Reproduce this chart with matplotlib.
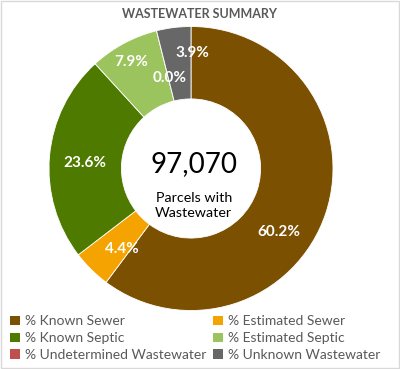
import matplotlib.pyplot as plt
import numpy as np

# data
categories = ['% Known Sewer', '% Estimated Sewer', '% Known Septic',
              '% Estimated Septic', '% Undetermined Wastewater', '% Unknown Wastewater']
values = [60.2, 4.4, 23.6, 7.9, 0.0, 3.9]
colors = ['#7B5000', '#F5A300', '#4E7A00', '#9CC45E', '#C0504D', '#676767']
total_parcels = '97,070'
center_label = 'Parcels with\nWastewater'
title = 'WASTEWATER SUMMARY'

# label spots (fraction of outer radius), set by hand like in the original
label_xy = [(0.62, -0.45), (-0.49, -0.57), (-0.75, 0.04),
            (-0.42, 0.75), (-0.15, 0.64), (0.01, 0.81)]

plt.rcParams['font.family'] = ['Lato', 'DejaVu Sans']

fig = plt.figure(figsize=(4.0, 3.69), dpi=100)
ax = fig.add_axes([0, 0, 1, 1])

wedges, _ = ax.pie(values, colors=colors, startangle=90, counterclock=False,
                   radius=1.0, wedgeprops=dict(width=0.51, edgecolor='white', linewidth=0.6))

for (x, y), v in zip(label_xy, values):
    ax.text(x, y, '%.1f%%' % v, ha='center', va='center', color='white',
            fontsize=11, fontweight='bold')

# center text
ax.text(0.02, 0.03, total_parcels, ha='center', va='center', fontsize=20, color='black')
ax.text(0.02, -0.26, center_label, ha='center', va='center', fontsize=10.3,
        color='black', linespacing=1.35)

# title
ax.text(0.063, 1.088, title, ha='center', va='center', fontsize=9,
        fontweight='bold', color='#595959')

ax.set_xlim(-191/142, (400-191)/142)
ax.set_ylim((168.5-369)/142, 168.5/142)
ax.axis('off')

# legend, row order like excel
order = [0, 2, 4, 1, 3, 5]
leg = fig.legend([wedges[i] for i in order], [categories[i] for i in order],
                 loc='upper left', bbox_to_anchor=(0.025, 0.145), ncol=2,
                 frameon=False, fontsize=10, handlelength=0.7, handleheight=0.7,
                 handletextpad=0.4, columnspacing=0.45, labelspacing=0.35,
                 borderaxespad=0, borderpad=0)
for t in leg.get_texts():
    t.set_color('#595959')
for h in leg.legend_handles:
    h.set_edgecolor('none')

# outer border
fig.patches.append(plt.Rectangle((0.002, 0.002), 0.996, 0.996, transform=fig.transFigure,
                                 fill=False, edgecolor='#D9D9D9', linewidth=1))

fig.savefig('out.png', dpi=100)
